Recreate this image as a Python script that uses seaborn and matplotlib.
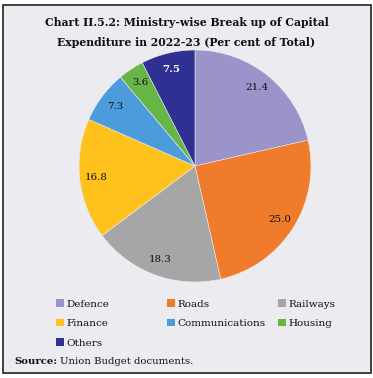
import matplotlib
matplotlib.use("Agg")
import matplotlib.pyplot as plt
from matplotlib.patches import Rectangle, Patch
import seaborn as sns

# data
ministries = ["Defence", "Roads", "Railways", "Finance",
              "Communications", "Housing", "Others"]
shares = [21.4, 25.0, 18.3, 16.8, 7.3, 3.6, 7.5]
slice_colors = ["#9B94CB", "#F07B2B", "#A6A6A6", "#FFC21C",
                "#4C9BDA", "#67B547", "#2E3191"]
label_colors = ["#111111"] * 6 + ["white"]

sns.set_style("white")
plt.rcParams['font.family'] = ['DejaVu Serif']
plt.rcParams['text.color'] = '#111111'

W, H = 373, 378
fig = plt.figure(figsize=(W / 100, H / 100), dpi=100)
fig.patch.set_facecolor("white")

# framed grey panel
fig.patches.append(Rectangle((3 / W, 1 - 373 / H), 368 / W, 368 / H,
                             transform=fig.transFigure, facecolor="#EBEBF0",
                             edgecolor="#222222", linewidth=1.2, zorder=-1))

fig.text(0.50, 1 - 23 / H, "Chart II.5.2: Ministry-wise Break up of Capital",
         ha="center", va="center", fontsize=7.8, fontweight="bold")
fig.text(0.50, 1 - 42 / H, "Expenditure in 2022-23 (Per cent of Total)",
         ha="center", va="center", fontsize=7.8, fontweight="bold")

# pie
cx, cy, r = 195, 166, 116
ax = fig.add_axes([(cx - r) / W, (H - cy - r) / H, 2 * r / W, 2 * r / H])
ax.set_zorder(1)
palette = sns.color_palette(slice_colors)
wedges, texts, autotexts = ax.pie(
    shares, colors=palette, startangle=90, counterclock=False,
    autopct=lambda p: "", pctdistance=0.86,
    wedgeprops=dict(linewidth=0.4, edgecolor="#EBEBF0"))
for at, v, c in zip(autotexts, shares, label_colors):
    at.set_text(f"{v:.1f}")
    at.set_color(c)
    at.set_fontsize(7.4)
    if c == "white":
        at.set_fontweight("bold")
ax.set_xlim(-1, 1)
ax.set_ylim(-1, 1)
ax.set_aspect("equal")
ax.axis("off")

# legend, three columns placed by hand
col_x = [56, 167, 278]
columns = [[0, 3, 6], [1, 4], [2, 5]]
for x, idx in zip(col_x, columns):
    handles = [Patch(facecolor=palette[i], edgecolor="none") for i in idx]
    leg = fig.legend(handles, [ministries[i] for i in idx],
                     loc="upper left", bbox_to_anchor=(x / W, 1 - 299 / H),
                     frameon=False, fontsize=7.5, handlelength=0.8,
                     handleheight=0.8, handletextpad=0.2, labelspacing=0.95,
                     borderaxespad=0, borderpad=0)

fig.canvas.draw()
renderer = fig.canvas.get_renderer()
src = fig.text(14 / W, 1 - 361 / H, "Source:", ha="left", va="center",
               fontsize=7.3, fontweight="bold")
bb = src.get_window_extent(renderer)
fig.text((bb.x1 + 3) / W, 1 - 361 / H, "Union Budget documents.",
         ha="left", va="center", fontsize=7.3)

fig.savefig("out.png", dpi=100)
